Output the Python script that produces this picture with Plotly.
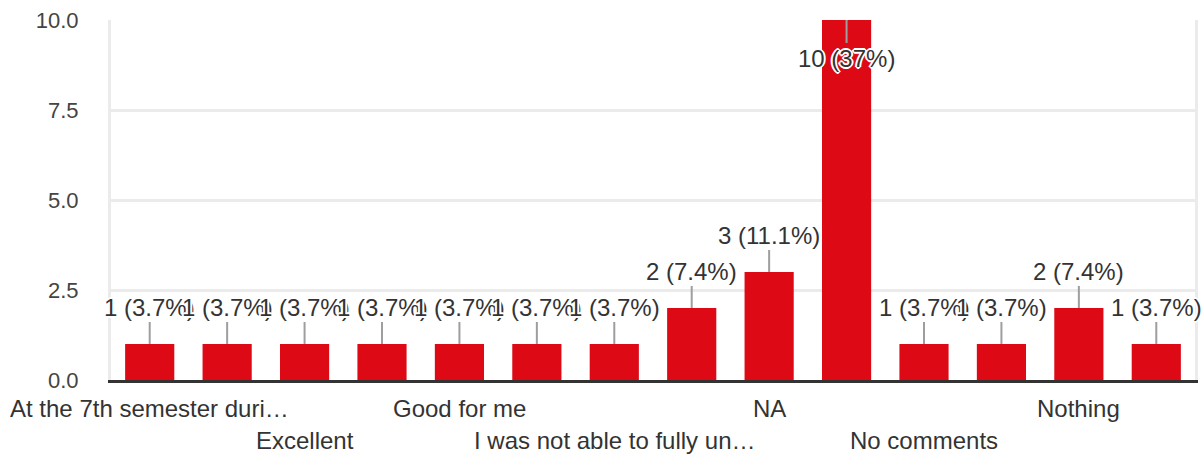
import plotly.graph_objects as go

categories = [
    "At the 7th semester during the project work",
    "Best",
    "Excellent",
    "Good",
    "Good for me",
    "Helpful",
    "I was not able to fully understand",
    "It was good",
    "NA",
    "Nil",
    "No comments",
    "None",
    "Nothing",
    "Very good",
]
values = [1, 1, 1, 1, 1, 1, 1, 2, 3, 10, 1, 1, 2, 1]
# displayed axis labels (empty = hidden), row: 1 = upper row, 2 = lower row
tick_labels = [
    "At the 7th semester duri…", "", "Excellent", "", "Good for me", "",
    "I was not able to fully un…", "", "NA", "", "No comments", "", "Nothing", "",
]
tick_rows = [1, 0, 2, 0, 1, 0, 2, 0, 1, 0, 2, 0, 1, 0]

y_max = 10
total = sum(values)
FONT = "Arial, 'Liberation Sans', sans-serif"
TXT = "#333333"
halo = ("white 2px 0px 0px, white -2px 0px 0px, white 0px 2px 0px, white 0px -2px 0px, "
        "white 1px 1px 0px, white -1px -1px 0px, white 1px -1px 0px, white -1px 1px 0px")


def fmt_pct(v):
    p = v / total * 100
    s = f"{p:.1f}"
    if s.endswith(".0"):
        s = s[:-2]
    return f"{v} ({s}%)"


fig = go.Figure(
    go.Bar(x=categories, y=values, marker=dict(color="#dd0a16", line=dict(width=0)),
           hoverinfo="skip")
)

annotations = []
for c, v in zip(categories, values):
    inside = v >= y_max
    annotations.append(dict(
        x=c, y=min(v, y_max), xref="x", yref="y", text=fmt_pct(v),
        showarrow=True, arrowhead=0, arrowwidth=2, arrowcolor="#9e9e9e",
        ax=0, ay=38 if inside else -37,
        font=dict(family=FONT, size=24, color=TXT, shadow=halo),
    ))

for c, lab, row in zip(categories, tick_labels, tick_rows):
    if not lab:
        continue
    annotations.append(dict(
        x=c, y=0, xref="x", yref="paper", text=lab, showarrow=False,
        yanchor="middle", yshift=-28 if row == 1 else -60,
        font=dict(family=FONT, size=24, color=TXT),
    ))

fig.update_layout(
    width=1202, height=455,
    margin=dict(l=111, r=7, t=20, b=75),
    paper_bgcolor="white", plot_bgcolor="white",
    bargap=0.365,
    showlegend=False,
    annotations=annotations,
    font=dict(family=FONT, size=24, color=TXT),
    xaxis=dict(range=[-0.5, len(categories) - 0.5], autorange=False,
               showticklabels=False, showgrid=False, showline=True,
               linecolor="#333333", linewidth=3, ticks="", automargin=False),
    yaxis=dict(range=[0, y_max], autorange=False, dtick=2.5, tickformat=".1f",
               showgrid=True, gridcolor="#ebebeb", gridwidth=3, zeroline=False,
               showline=True, linecolor="#ebebeb", linewidth=3, mirror=True,
               ticks="", ticklabelstandoff=25, automargin=False,
               tickfont=dict(family=FONT, size=22, color="#444444")),
)

fig.write_html("out.html", config={"displayModeBar": False},
               post_script="document.body.style.margin='0';")
